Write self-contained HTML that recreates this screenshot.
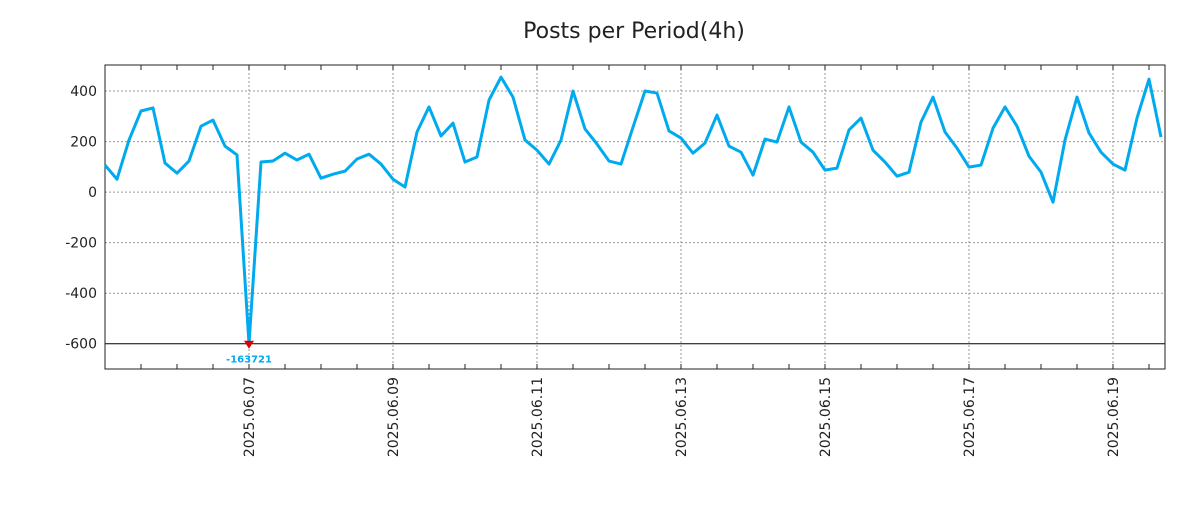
<!DOCTYPE html>
<html><head><meta charset="utf-8"><style>
body{margin:0;background:#fff;width:1200px;height:500px;overflow:hidden}
svg{font-family:"DejaVu Sans","Liberation Sans",sans-serif}
</style></head><body>
<svg id="chart" width="1200" height="500" xmlns="http://www.w3.org/2000/svg">
<text x="634" y="38" text-anchor="middle" font-size="22" fill="#222">Posts per Period(4h)</text>
<g id="grid"></g>
<g id="axes"></g>
<g id="series"></g>
</svg>
<script>
const values=[107,51,206,321,333,115,75,123,261,285,182,147,-163721,119,123,154,127,150,55,71,83,131,150,111,51,20,238,337,222,273,119,139,364,455,376,206,166,111,206,400,250,190,123,111,257,400,392,242,214,154,194,305,182,158,67,210,198,337,198,158,87,95,246,293,166,119,63,79,277,376,238,174,99,107,253,337,261,142,79,-40,206,376,234,158,111,87,293,447,218];
const yTicks=[400,200,0,-200,-400,-600];
const dateLabels=["2025.06.07","2025.06.09","2025.06.11","2025.06.13","2025.06.15","2025.06.17","2025.06.19"];
const dateIdx=[12,24,36,48,60,72,84];
const minLabel="-163721";
const X0=105,X1=1165,Y0=65,Y1=369,YMIN=-700,YMAX=503,STEP=12;
const sx=i=>X0+i*STEP;
const sy=v=>Y1-(Math.max(v,-600)-YMIN)/(YMAX-YMIN)*(Y1-Y0);
const NS="http://www.w3.org/2000/svg";
function mk(t,a,p){const e=document.createElementNS(NS,t);for(const k in a)e.setAttribute(k,a[k]);p.appendChild(e);return e;}
const grid=document.getElementById('grid'),axes=document.getElementById('axes'),ser=document.getElementById('series');
yTicks.forEach(v=>{const y=sy(v);
 const l=mk('line',{x1:X0,x2:X1,y1:y,y2:y,stroke:v===-600?'#000':'#999','stroke-dasharray':v===-600?'':'2,2','stroke-width':1},grid);
 
 
 const t=mk('text',{x:X0-8,y:y+5,'text-anchor':'end','font-size':14,fill:'#222'},axes);t.textContent=v;
 
 
});
for(let i=0;i*STEP+X0<=X1;i+=3){const x=sx(i);
 mk('line',{x1:x,x2:x,y1:Y0,y2:Y0+5,stroke:'#222'},axes);
 mk('line',{x1:x,x2:x,y1:Y1,y2:Y1-5,stroke:'#222'},axes);}
dateIdx.forEach((di,k)=>{const x=sx(di);
 const l=mk('line',{x1:x,x2:x,y1:Y0,y2:Y1,stroke:'#999','stroke-dasharray':'2,2'},grid);
 
 
 const t=mk('text',{x:0,y:0,'text-anchor':'end','font-size':14,fill:'#222',transform:`translate(${x+5},${Y1+8}) rotate(-90)`},axes);t.textContent=dateLabels[k];
 
 
});
const fr=mk('rect',{x:X0,y:Y0,width:X1-X0,height:Y1-Y0,fill:'none',stroke:'#222'},axes);


const pl=mk('polyline',{points:values.map((v,i)=>sx(i)+','+sy(v)).join(' '),fill:'none',stroke:'#00aaee','stroke-width':3,'stroke-linejoin':'round'},ser);


let mi=0;values.forEach((v,i)=>{if(v<values[mi])mi=i;});
const mx=sx(mi),my=sy(values[mi]);
const mkr=mk('polygon',{points:`${mx-5},${my-3} ${mx+5},${my-3} ${mx},${my+5}`,fill:'#dd0000'},ser);


const ml=mk('text',{x:mx,y:my+19,'text-anchor':'middle','font-size':10,'font-weight':'bold',fill:'#00aaee'},ser);ml.textContent=minLabel;


</script>
</body></html>
